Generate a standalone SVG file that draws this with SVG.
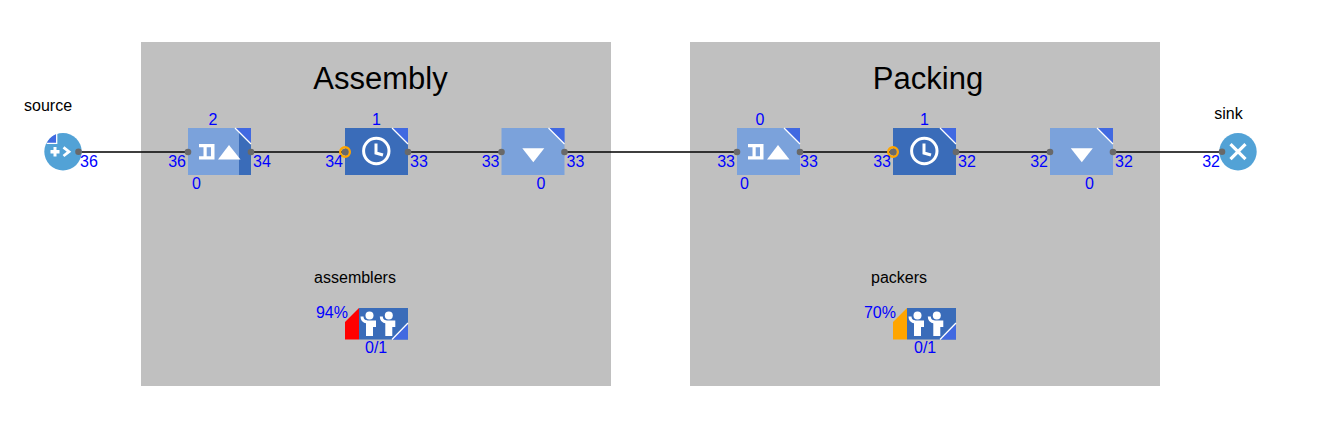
<svg xmlns="http://www.w3.org/2000/svg" xmlns:xlink="http://www.w3.org/1999/xlink" width="1337" height="446" viewBox="0 0 1337 446">
<style>
text{font-family:"Liberation Sans",Arial,sans-serif}
.n{font-size:16px;fill:#0000ff}
.l{font-size:16px;fill:#000}
.t{font-size:31px;fill:#000;text-anchor:middle}
.m{text-anchor:middle}
.e{text-anchor:end}
.area{fill:#c0c0c0}
.light{fill:#7ba2db}
.dark{fill:#3a6cb9}
.corner{fill:#4169e1}
.cut{stroke:#fff;stroke-width:1.3;fill:none}
.port{fill:#696969}
.ball{fill:#52a2d6}
.w{fill:#fff}
.ws{fill:none;stroke:#fff}
.wire{stroke:#000;stroke-width:1.5;fill:none}
.ring{fill:none;stroke:#ffa500;stroke-width:2.4}
</style>
<defs>
<g id="tab"><path class="corner" d="M47 0H63V16Z"/><path class="cut" d="M47 0L63 16"/></g>
<g id="hold"><path class="w" fill-rule="evenodd" d="M11 16H26.500V31.500H11V28.200H15.500V19.300H11ZM18.700 19.300V28.200H23V19.300Z"/><path class="w" d="M30 31.500L41 17L52.500 31.500Z"/></g>
<g id="clock"><circle class="ws" cx="31.300" cy="23" r="12.700" stroke-width="3"/><path class="ws" d="M31 15.500V25L38 27" stroke-width="3"/></g>
<path id="down" class="w" d="M20.800 20.300H42.800L31.800 34.300Z"/>
<g id="person"><circle class="w" cx="10.500" cy="7.500" r="4"/><path class="ws" d="M3 8.500Q3 13.500 8 14" stroke-width="3"/><path class="w" d="M7 12.500H17V19H14V28H7Z"/></g>
<g id="res"><rect class="dark" x="14" y="0" width="49" height="31.500"/><use xlink:href="#person" x="14" y="0"/><use xlink:href="#person" x="33.300" y="0"/><path class="corner" d="M63 15V31.500H47Z"/><path class="cut" d="M63 15L47 31.500"/></g>
</defs>
<rect width="1337" height="446" fill="#fff"/>
<g id="assembly"><rect class="area" x="141" y="42" width="470" height="344"/><text class="t" x="380.500" y="89">Assembly</text></g>
<g id="packing"><rect class="area" x="690" y="42" width="470" height="344"/><text class="t" x="928" y="89">Packing</text></g>
<g id="connectors">
<path class="wire" d="M78.500 152H188M251 152H345M408 152H501.500M564.500 152H737M800 152H893M956 152H1050M1113 152H1222"/>
</g>
<g id="source">
<circle class="ball" cx="63" cy="151.700" r="18.700"/>
<path class="corner" d="M46.700 143.300H56.700V134A18.700 18.700 0 0 0 46.700 143.300Z"/><path class="cut" d="M46.700 143.300H56.700V134" stroke-width="1"/>
<path class="w" d="M50.500 150H53.500V147H56.500V150H59.500V153.400H56.500V156.400H53.500V153.400H50.500Z"/><path class="ws" d="M63.500 147.300L69 151.700L63.500 156" stroke-width="2.800"/>
<circle class="port" cx="78.500" cy="151.700" r="3.300"/>
<text class="l" x="24" y="111">source</text><text class="n" x="80" y="167">36</text>
</g>
<g id="hold1" transform="translate(188 128)">
<rect class="light" width="63" height="47"/><rect class="dark" x="51" width="12" height="47"/><use xlink:href="#tab"/><use xlink:href="#hold"/>
<circle class="port" cx="0" cy="24" r="3.300"/><circle class="port" cx="63" cy="24" r="3.300"/>
<text class="n m" x="25" y="-3">2</text><text class="n e" x="-2" y="39">36</text><text class="n" x="65" y="39">34</text><text class="n" x="4" y="61">0</text>
</g>
<g id="delay1" transform="translate(345 128)">
<rect class="dark" width="63" height="47"/><use xlink:href="#tab"/><use xlink:href="#clock"/>
<circle class="ring" cx="0" cy="24" r="4.800"/><circle class="port" cx="0" cy="24" r="3.300"/><circle class="port" cx="63" cy="24" r="3.300"/>
<text class="n m" x="31.500" y="-3">1</text><text class="n e" x="-2" y="39">34</text><text class="n" x="65" y="39">33</text>
</g>
<g id="release1" transform="translate(501.500 128)">
<rect class="light" width="63" height="47"/><use xlink:href="#tab"/><use xlink:href="#down"/>
<circle class="port" cx="0" cy="24" r="3.300"/><circle class="port" cx="63" cy="24" r="3.300"/>
<text class="n e" x="-2" y="39">33</text><text class="n" x="65" y="39">33</text><text class="n" x="35" y="61">0</text>
</g>
<g id="hold2" transform="translate(737 128)">
<rect class="light" width="63" height="47"/><use xlink:href="#tab"/><use xlink:href="#hold"/>
<circle class="port" cx="0" cy="24" r="3.300"/><circle class="port" cx="63" cy="24" r="3.300"/>
<text class="n m" x="23" y="-3">0</text><text class="n e" x="-2" y="39">33</text><text class="n" x="63" y="39">33</text><text class="n" x="3" y="61">0</text>
</g>
<g id="delay2" transform="translate(893 128)">
<rect class="dark" width="63" height="47"/><use xlink:href="#tab"/><use xlink:href="#clock"/>
<circle class="ring" cx="0" cy="24" r="4.800"/><circle class="port" cx="0" cy="24" r="3.300"/><circle class="port" cx="63" cy="24" r="3.300"/>
<text class="n m" x="31.500" y="-3">1</text><text class="n e" x="-2" y="39">33</text><text class="n" x="65" y="39">32</text>
</g>
<g id="release2" transform="translate(1050 128)">
<rect class="light" width="63" height="47"/><use xlink:href="#tab"/><use xlink:href="#down"/>
<circle class="port" cx="0" cy="24" r="3.300"/><circle class="port" cx="63" cy="24" r="3.300"/>
<text class="n e" x="-2" y="39">32</text><text class="n" x="65" y="39">32</text><text class="n" x="35" y="61">0</text>
</g>
<g id="sink">
<circle class="ball" cx="1238" cy="151.700" r="18.700"/>
<path class="ws" d="M1230.500 144.200L1245.500 159.200M1245.500 144.200L1230.500 159.200" stroke-width="3.200"/>
<circle class="port" cx="1222" cy="151.700" r="3.300"/>
<text class="l m" x="1228.500" y="119">sink</text><text class="n e" x="1220" y="167">32</text>
</g>
<g id="assemblers" transform="translate(345 308)">
<path fill="#ff0000" d="M0 31.500V14L14 0V31.500Z"/><use xlink:href="#res"/>
<text class="l m" x="10" y="-25">assemblers</text><text class="n e" x="3" y="10">94%</text><text class="n" x="20" y="45">0/1</text>
</g>
<g id="packers" transform="translate(893 308)">
<path fill="#ffa500" d="M0 31.500V14L14 0V31.500Z"/><use xlink:href="#res"/>
<text class="l m" x="6" y="-25">packers</text><text class="n e" x="3" y="10">70%</text><text class="n" x="21" y="45">0/1</text>
</g>
</svg>
